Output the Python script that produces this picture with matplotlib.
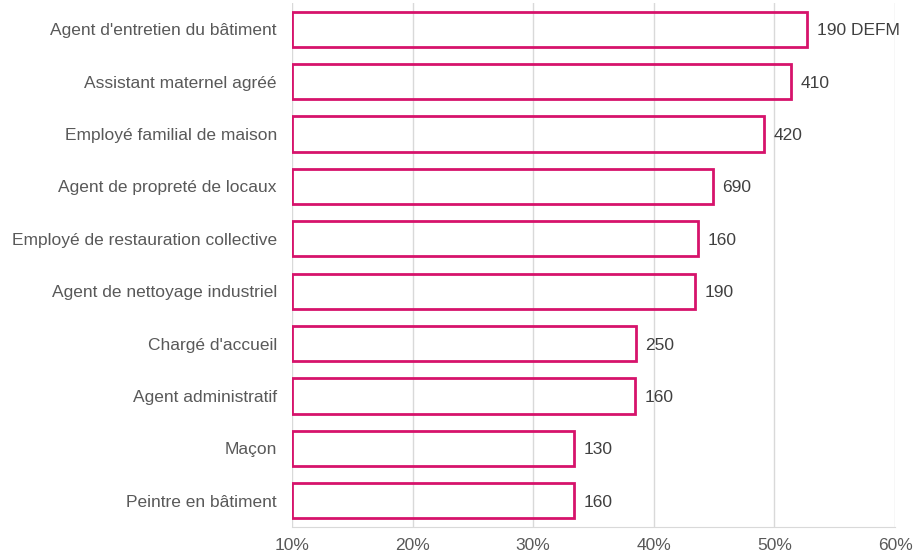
import matplotlib
matplotlib.use("Agg")
import matplotlib.pyplot as plt
from matplotlib.ticker import FuncFormatter

categories = [
    "Agent d'entretien du bâtiment",
    "Assistant maternel agréé",
    "Employé familial de maison",
    "Agent de propreté de locaux",
    "Employé de restauration collective",
    "Agent de nettoyage industriel",
    "Chargé d'accueil",
    "Agent administratif",
    "Maçon",
    "Peintre en bâtiment",
]
values = [52.7, 51.4, 49.1, 44.9, 43.7, 43.4, 38.5, 38.4, 33.4, 33.4]
labels = ["190 DEFM", "410", "420", "690", "160", "190", "250", "160", "130", "160"]
xticks = [10, 20, 30, 40, 50, 60]

plt.rcParams['font.family'] = ['Liberation Sans', 'DejaVu Sans']

fig = plt.figure(figsize=(9.14, 5.53), dpi=100)
ax = fig.add_axes([292/914, 1-527/553, (895-292)/914, 524/553])

edge = "#D6136B"
n = len(categories)
ypos = list(range(n))[::-1]
xmin = 10
ax.barh(ypos, [v - xmin for v in values], left=xmin, height=0.67,
        color="none", edgecolor=edge, linewidth=2.0, zorder=3)

for y, v, t in zip(ypos, values, labels):
    ax.text(v + 0.8, y, t, va="center_baseline", ha="left", fontsize=12.5, color="#404040")

ax.set_xlim(10, 60)
ax.set_ylim(-0.5, n - 0.5)
ax.set_xticks(xticks)
ax.xaxis.set_major_formatter(FuncFormatter(lambda x, p: f"{int(x)}%"))
ax.set_yticks(ypos)
ax.set_yticklabels(categories)
ax.tick_params(axis="y", length=0, pad=10.8, labelsize=12.5, labelcolor="#595959")
ax.tick_params(axis="x", length=0, pad=8, labelsize=12.5, labelcolor="#595959")

ax.grid(axis="x", color="#d9d9d9", linewidth=1, zorder=0)
ax.set_axisbelow(True)
for s in ["top", "right", "left"]:
    ax.spines[s].set_visible(False)
ax.spines["bottom"].set_color("#d9d9d9")

fig.savefig("out.png", dpi=100)
